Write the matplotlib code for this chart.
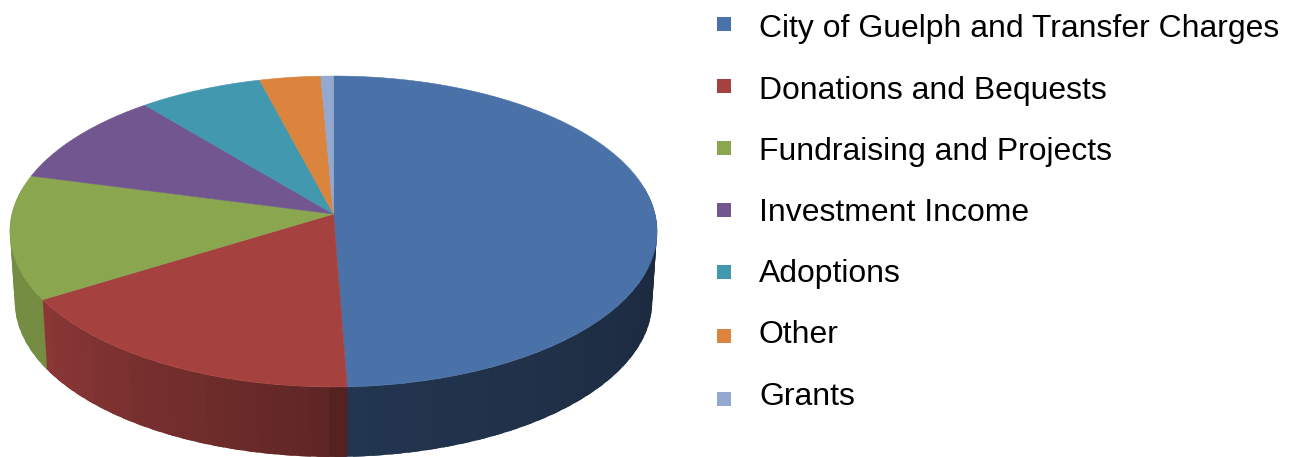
import numpy as np
import matplotlib
matplotlib.use("Agg")
import matplotlib.pyplot as plt
from matplotlib.patches import Polygon, Rectangle

plt.rcParams['font.family'] = ['Liberation Sans', 'DejaVu Sans']

categories = ["City of Guelph and Transfer Charges", "Donations and Bequests",
              "Fundraising and Projects", "Investment Income", "Adoptions",
              "Other", "Grants"]
shares = [49.4, 16.8, 12.9, 9.9, 6.9, 3.4, 0.7]
colors = ["#4A71A8", "#A54240", "#8AA64F", "#71568F", "#4198AF", "#DB843D", "#93A9CF"]

W, H = 1293, 457

# perspective of the pie, in pixels of the picture
cx, cy = 333.5, 214
a, b, k = 321.5, 153.5, 0.1125
depth = 70
shrink = 0.985


def project(theta, top=True):
    # theta in degrees, clockwise from 12 o'clock
    t = np.radians(theta)
    u, v = np.sin(t), np.cos(t)
    d = 1 + k * v
    if top:
        return cx + a * u / d, cy - b * v / d
    return cx + shrink * a * u / d, cy + depth - b * v / d


def side_shade(theta):
    # side gets darker from the left round to the right
    return np.interp(theta, [80, 100, 177, 182, 240, 290],
                     [0.36, 0.37, 0.47, 0.58, 0.85, 0.85])


fig = plt.figure(figsize=(W / 100, H / 100), dpi=100)
ax = fig.add_axes([0, 0, 1, 1])
ax.set_xlim(0, W)
ax.set_ylim(H, 0)
ax.axis('off')

edges = np.concatenate([[0], np.cumsum(shares)]) / sum(shares) * 360

# side wall first, strips overlap the next one so no seams show
for i, c in enumerate(colors):
    rgb = np.array(matplotlib.colors.to_rgb(c))
    start, stop = max(edges[i], 80), min(edges[i + 1], 280)
    if stop <= start:
        continue
    steps = np.linspace(start, stop, int((stop - start) / 3) + 2)
    for t0, t1 in zip(steps[:-1], steps[1:]):
        arc = np.linspace(t0, min(t1 + 2, 280), 8)
        x0, y0 = project(arc)
        x1, y1 = project(arc, False)
        pts = np.column_stack([np.r_[x0, x1[::-1]], np.r_[y0, y1[::-1]]])
        col = rgb * side_shade((t0 + t1) / 2)
        ax.add_patch(Polygon(pts, closed=True, facecolor=col, edgecolor='none'))

# top face
for i, c in enumerate(colors):
    thetas = np.linspace(edges[i], edges[i + 1], 120)
    x, y = project(thetas)
    pts = np.column_stack([np.r_[cx, x], np.r_[cy, y]])
    ax.add_patch(Polygon(pts, closed=True, facecolor=c, edgecolor=c, lw=0.4))

# legend
marker_y = [24, 86, 148, 210, 272, 336, 399]
text_y = [37, 98.5, 160, 221, 282, 343, 405]
for name, c, my, ty in zip(categories, colors, marker_y, text_y):
    ax.add_patch(Rectangle((717, my - 7), 14, 14, facecolor=c, edgecolor='none'))
    ax.text(759, ty, name, fontsize=22.95, color='black', va='baseline', ha='left')

fig.savefig("out.png", dpi=100, facecolor='white')
